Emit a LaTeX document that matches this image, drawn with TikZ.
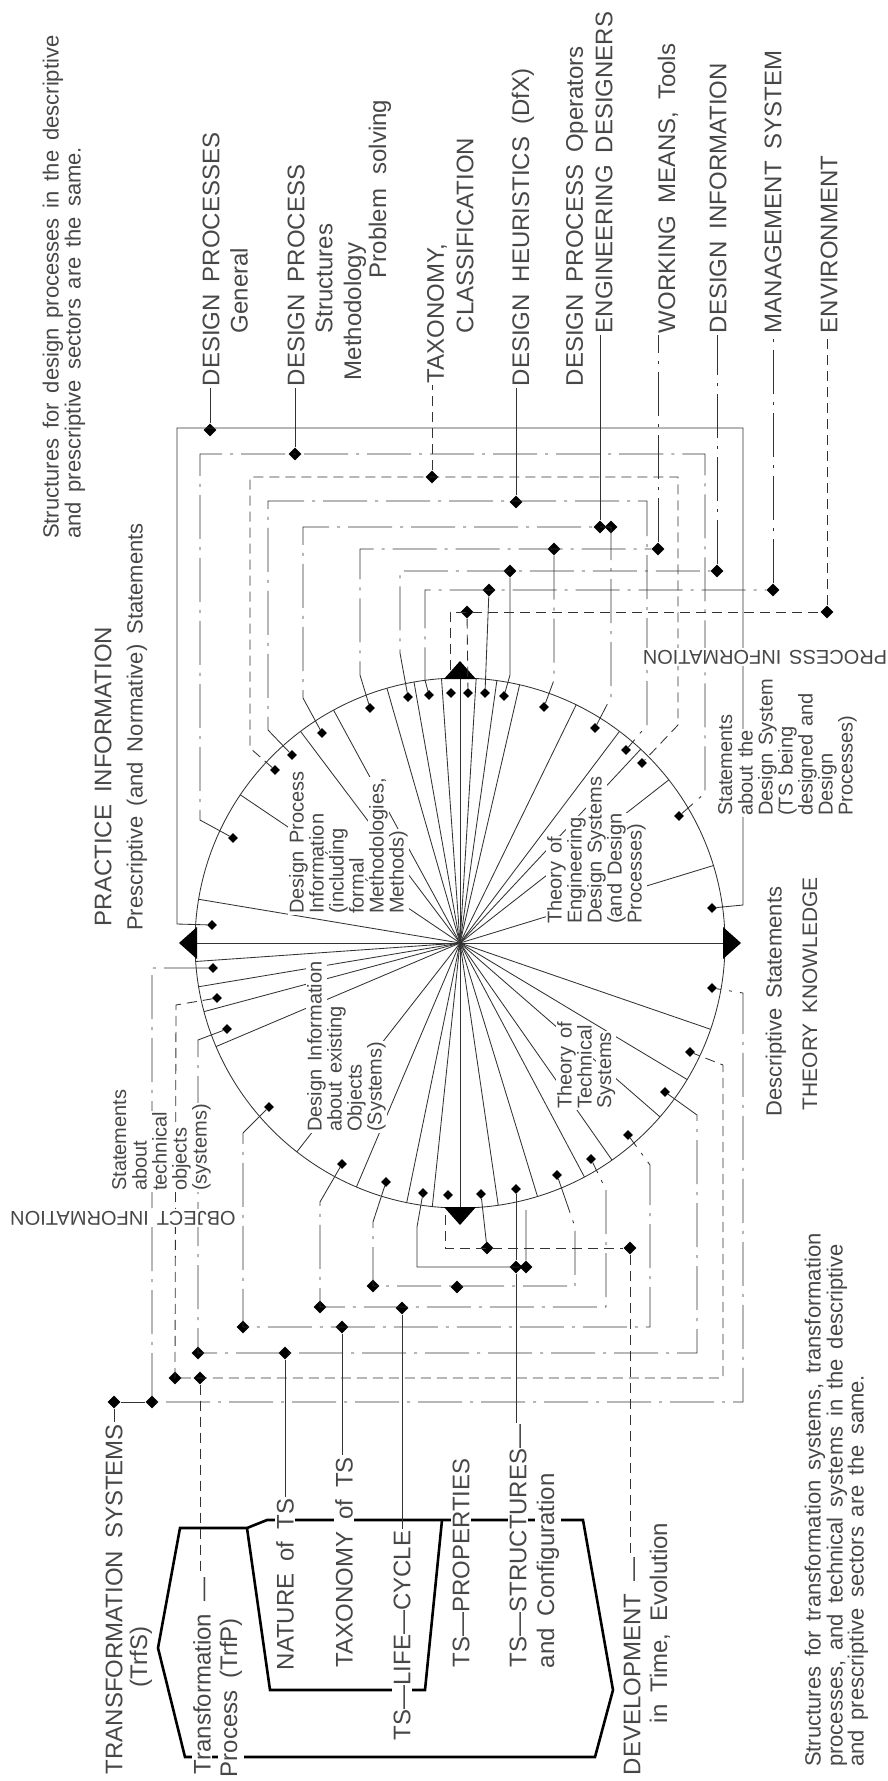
\documentclass[tikz,border=0pt]{standalone}
\usepackage{fontspec}
\setmainfont{Liberation Sans}
\usetikzlibrary{shapes.geometric}

\def\bigfont{\fontsize{24}{27}\selectfont\spaceskip=0.5em\relax}
\def\midfont{\fontsize{22}{23}\selectfont\spaceskip=0.45em\relax}
\def\smlfont{\fontsize{20}{20}\selectfont\spaceskip=0.4em\relax}
\def\thfont{\fontsize{21}{24}\selectfont\spaceskip=0.45em\relax}

\newcommand{\txtlines}[4]{%
  \foreach \lineT [count=\i from 0] in {#4}
    \node[smltxt] (#1\i) at ({#2+20*\i},#3) {\lineT};}

\tikzset{
  wire/.style={line width=0.85pt, draw=black!80},
  wirec/.style={wire, dash pattern=on 44pt off 8pt on 3pt off 8pt},
  wireh/.style={wire, dash pattern=on 10pt off 6pt},
  brk/.style={line width=2.6pt, line join=miter},
  dia/.style={diamond, fill=black, inner sep=0pt, minimum size=13pt},
  dias/.style={dia, minimum size=10pt},
  bigtxt/.style={rotate=90, anchor=west, inner sep=1.5pt, fill=white, text=black!72, font=\bigfont},
  midtxt/.style={rotate=90, anchor=west, inner sep=1pt, text=black!72, font=\midfont},
  smltxt/.style={rotate=90, anchor=north west, inner sep=1pt, fill=white, text=black!72, font=\smlfont},
  flip/.style={rotate=180, inner sep=1.5pt, fill=white, text=black!72, font=\smlfont},
}

\begin{document}
\begin{tikzpicture}[x=1pt, y=-1pt]
\useasboundingbox (0,0) rectangle (887,1781);

%%%%% CIRCLE %%%%%
\coordinate (C) at (460,943);
\draw[wire] (C) circle (265);
\draw[wire] (195,943) -- (725,943);
\draw[wire] (460,678) -- (460,1208);
\foreach \a in {-170.5,-146,-127,-118.5,-106,-100,-94,-86.5,-82,-77,-64,-53,-47,-38,-17,
                19,31,41,55,62,73,81.7,96,101.6,113,128,157,165,170.5,176}
  \draw[wire] (C) -- ++(\a:265);

\fill (444,679) -- (476,679) -- (460,661) -- cycle;
\fill (444,1207) -- (476,1207) -- (460,1225) -- cycle;
\fill (197,927) -- (197,959) -- (179,943) -- cycle;
\fill (723,927) -- (723,959) -- (741,943) -- cycle;

% diamonds inside the circle
\node[dias] (pA) at (212,925) {};
\node[dias] (pB) at (233,838) {};
\node[dias] (pC) at (275,770) {};
\node[dias] (pD) at (292,755) {};
\node[dias] (pE) at (322,733) {};
\node[dias] (pF) at (370,708) {};
\node[dias] (pG) at (408,697) {};
\node[dias] (pH) at (429,695) {};
\node[dias] (pI) at (451,693) {};
\node[dias] (pJ) at (468,693) {};
\node[dias] (pK) at (485,693) {};
\node[dias] (pL) at (504,696) {};
\node[dias] (pM) at (544,707) {};
\node[dias] (pN) at (595,728) {};
\node[dias] (pO) at (626,750) {};
\node[dias] (pP) at (642,763) {};
\node[dias] (pQ) at (679,816) {};
\node[dias] (pR) at (712,908) {};

\node[dias] (tS) at (712,988) {};
\node[dias] (tT) at (690,1052) {};
\node[dias] (tU) at (665,1092) {};
\node[dias] (tV) at (628,1135) {};
\node[dias] (tW) at (591,1159) {};
\node[dias] (tDD) at (557,1175) {};
\node[dias] (tCC) at (516,1189) {};
\node[dias] (tBB) at (481,1194) {};
\node[dias] (tAA) at (448,1195) {};
\node[dias] (tZ) at (423,1193) {};
\node[dias] (tY) at (386,1182) {};
\node[dias] (tX) at (342,1164) {};
\node[dias] (tHH) at (269,1107) {};
\node[dias] (tGG) at (227,1029) {};
\node[dias] (tFF) at (217,998) {};
\node[dias] (tEE) at (213,968) {};

% diamonds on the lines
\node[dia] (gen) at (210,430) {};
\node[dia] (str) at (295,454) {};
\node[dia] (tax) at (432,477) {};
\node[dia] (heu) at (516,502) {};
\node[dia] (op1) at (600,527) {};
\node[dia] (op2) at (611,527) {};
\node[dia] (wm1) at (554,549) {};
\node[dia] (wm2) at (658,549) {};
\node[dia] (di1) at (510,571) {};
\node[dia] (di2) at (717,571) {};
\node[dia] (ms1) at (489,590) {};
\node[dia] (ms2) at (773,590) {};
\node[dia] (en1) at (467,612) {};
\node[dia] (en2) at (827,612) {};

\node[dia] (trs1) at (114,1402) {};
\node[dia] (trs2) at (152,1402) {};
\node[dia] (trp1) at (175,1378) {};
\node[dia] (trp2) at (200,1378) {};
\node[dia] (nat1) at (198,1353) {};
\node[dia] (nat2) at (285,1353) {};
\node[dia] (txn1) at (243,1327) {};
\node[dia] (txn2) at (342,1327) {};
\node[dia] (lc1) at (320,1307) {};
\node[dia] (lc2) at (402,1308) {};
\node[dia] (pr1) at (373,1286) {};
\node[dia] (pr2) at (457,1287) {};
\node[dia] (st1) at (516,1267) {};
\node[dia] (st2) at (526,1267) {};
\node[dia] (dv1) at (487,1248) {};
\node[dia] (dv2) at (630,1248) {};

%%%%% PRESCRIPTIVE SIDE %%%%%
\draw[wire]  (pA) -- (177,924) -- (177,428) -- (743,428) -- (743,905) -- (pR);
\draw[wirec] (pB) -- (200,820) -- (200,454) -- (705,454) -- (705,793) -- (pQ);
\draw[wireh] (pC) -- (250,748) -- (250,477) -- (678,477) -- (678,725) -- (pP);
\draw[wirec] (pD) -- (268,730) -- (268,501) -- (647,501) -- (647,725) -- (pO);
\draw[wirec] (pE) -- (303,698) -- (303,527) -- (611,527) -- (611,697) -- (pN);
\draw[wirec] (pF) -- (360,675) -- (360,549) -- (wm2);
\draw[wirec] (wm1) -- (554,680) -- (pM);
\draw[wirec] (pG) -- (400,653) -- (400,571) -- (di2);
\draw[wire]  (di1) -- (510,675) -- (pL);
\draw[wirec] (pH) -- (425,680) -- (425,590) -- (ms2);
\draw[wire]  (ms1) -- (pK);
\draw[wireh] (450,670) -- (450,612) -- (en2);
\draw[wireh] (en1) -- (pJ);

%%%%% DESCRIPTIVE SIDE %%%%%
\draw[wirec] (tEE) -- (152,968) -- (152,1402) -- (743,1402) -- (743,993) -- (tS);
\draw[wire]  (trs1) -- (trs2);
\draw[wireh] (tFF) -- (176,1005) -- (175,1378) -- (723,1378) -- (723,1065) -- (tT);
\draw[wirec] (tGG) -- (198,1040) -- (198,1353) -- (697,1353) -- (697,1115) -- (tU);
\draw[wirec] (tHH) -- (243,1133) -- (243,1327) -- (650,1327) -- (650,1165) -- (tV);
\draw[wirec] (tX) -- (320,1202) -- (320,1307) -- (606,1307) -- (606,1190) -- (tW);
\draw[wirec] (tY) -- (373,1222) -- (373,1286) -- (575,1286) -- (575,1227) -- (tDD);
\draw[wire]  (tZ) -- (417,1227) -- (417,1267) -- (st2) -- (526,1210);
\draw[wire]  (tCC) -- (st1);
\draw[wireh] (445,1215) -- (445,1248) -- (dv2);
\draw[wire]  (tBB) -- (dv1);

% bold frame
\draw[brk] (185,1757) -- (158,1648) -- (180,1528) -- (247,1528) -- (267,1520) -- (583,1520)
  -- (613,1690) -- (595,1757) -- cycle;
\draw[brk] (247,1528) -- (270,1690) -- (425,1690) -- (442,1520);

%%%%% TEXTS %%%%%
\node[midtxt] (nTop1) at (53,540) {Structures for design processes in the descriptive};
\node[midtxt] (nTop2) at (75,540) {and prescriptive sectors are the same.};

\node[bigtxt] (lGen) at (211,388) {DESIGN PROCESSES};
\node[bigtxt] (lGen2) at (239,335) {General};
\node[bigtxt] (lStr) at (296,388) {DESIGN PROCESS};
\node[bigtxt] (lStr2) at (324,335) {Structures};
\node[bigtxt] (lStr3) at (355,382) {Methodology};
\node[bigtxt] (lStr4) at (380,280) {Problem\hspace{0.6em}solving};
\node[bigtxt] (lTax) at (437,385) {TAXONOMY,};
\node[bigtxt] (lTax2) at (465,335) {CLASSIFICATION};
\node[bigtxt] (lHeu) at (523,388) {DESIGN HEURISTICS (DfX)};
\node[bigtxt] (lOp) at (577,388) {DESIGN PROCESS Operators};
\node[bigtxt] (lOp2) at (604,335) {ENGINEERING DESIGNERS};
\node[bigtxt] (lWm) at (668,335) {WORKING MEANS, Tools};
\node[bigtxt] (lDi) at (718,335) {DESIGN INFORMATION};
\node[bigtxt] (lMs) at (773,335) {MANAGEMENT SYSTEM};
\node[bigtxt] (lEn) at (829,335) {ENVIRONMENT};

\node[bigtxt] (lPrac) at (103,928) {PRACTICE INFORMATION};
\node[midtxt] (lPresc) at (137,932) {Prescriptive (and Normative) Statements};
\txtlines{lObj}{111}{1192}{{Statements},{about},{technical},{objects},{(systems)}}
\node[flip] (lObjInf) at (123,1218) {OBJECT INFORMATION};
\node[flip] (lProcInf) at (765,657) {PROCESS INFORMATION};
\node[midtxt] (lDesc) at (776,1118) {Descriptive Statements};
\node[bigtxt, font=\thfont] (lTheo) at (810,1112) {THEORY KNOWLEDGE};
\txtlines{lDs}{717}{817}{{Statements},{about the},{Design System},{(TS being},{designed and},{Design},{Processes)}}

\txtlines{lDpi}{288}{915}{{Design Process},{Information},{(including},{formal},{Methodologies,},{Methods)}}
\txtlines{lTed}{546}{925}{{Theory of},{Engineering},{Design Systems},{(and Design},{Processes)}}
\txtlines{lDie}{306}{1133}{{Design Information},{about existing},{Objects},{(Systems)}}
\txtlines{lTts}{556}{1110}{{Theory of},{Technical},{Systems}}

\node[bigtxt] (lTrs) at (114,1776) {TRANSFORMATION SYSTEMS};
\node[bigtxt] (lTrs2) at (141,1689) {(TrfS)};
\node[bigtxt] (lTrp) at (202,1776) {Transformation —};
\node[bigtxt] (lTrp2) at (231,1779) {Process (TrfP)};
\node[bigtxt] (lNat) at (285,1672) {NATURE of TS};
\node[bigtxt] (lTxn) at (344,1669) {TAXONOMY of TS};
\node[bigtxt] (lLc) at (402,1742) {TS—LIFE—CYCLE};
\node[bigtxt] (lProp) at (461,1669) {TS—PROPERTIES};
\node[bigtxt] (lSt) at (518,1669) {TS—STRUCTURES—};
\node[bigtxt] (lSt2) at (548,1670) {and Configuration};
\node[bigtxt] (lDev) at (632,1777) {DEVELOPMENT —};
\node[bigtxt] (lDev2) at (660,1725) {in Time, Evolution};

\node[midtxt] (nBot1) at (815,1768) {Structures for transformation systems, transformation};
\node[midtxt] (nBot2) at (837,1768) {processes, and technical systems in the descriptive};
\node[midtxt] (nBot3) at (858,1768) {and prescriptive sectors are the same.};

%%%%% LABEL CONNECTORS %%%%%
\draw[wire]  (gen) -- (gen |- lGen.west);
\draw[wire]  (str) -- (str |- lStr.west);
\draw[wireh] (tax) -- (tax |- lTax.west);
\draw[wire]  (heu) -- (heu |- lHeu.west);
\draw[wire]  (op1) -- (op1 |- lOp2.west);
\draw[wirec] (wm2) -- (wm2 |- lWm.west);
\draw[wirec] (di2) -- (di2 |- lDi.west);
\draw[wirec] (ms2) -- (ms2 |- lMs.west);
\draw[wireh] (en2) -- (en2 |- lEn.west);

\draw[wire]  (trs1) -- (trs1 |- lTrs.east);
\draw[wireh] (trp2) -- (trp2 |- lTrp.east);
\draw[wire]  (nat2) -- (nat2 |- lNat.east);
\draw[wire]  (txn2) -- (txn2 |- lTxn.east);
\draw[wire]  (lc2) -- (lc2 |- lLc.east);
\draw[wire]  (st1) -- (st1 |- lSt.east);
\draw[wireh] (dv2) -- (dv2 |- lDev.east);
\end{tikzpicture}
\end{document}
